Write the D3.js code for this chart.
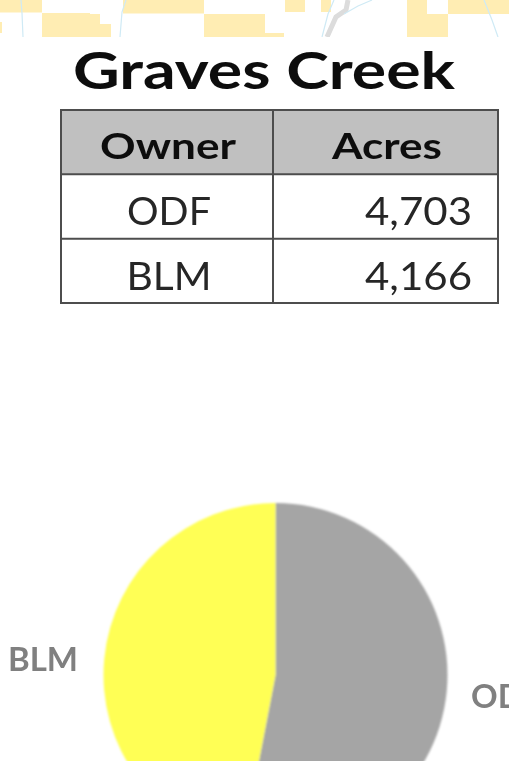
<!DOCTYPE html>
<html><head><meta charset="utf-8">
<script src="https://cdn.jsdelivr.net/npm/d3@7/dist/d3.min.js"></script>
<style>html,body{margin:0;padding:0;background:#fff;overflow:hidden}svg{display:block}text{font-family:Lato,"Open Sans",sans-serif}</style>
</head><body><div id="c"></div>
<script>
const title = "Graves Creek";
const columns = ["Owner", "Acres"];
const owners = ["ODF", "BLM"];
const acres = [4703, 4166];
const sliceColors = ["#a5a5a5", "#ffff55"];

// decorative map fragment behind the top edge
const mapPatches = [
  "M0,0H42V12.5H0Z", "M42,13H90V14H100V24H111V37H42Z", "M0,22H2V33H0Z",
  "M123,0H204V13.5H123Z", "M204,14H265V33H284V37H204Z",
  "M285,0H305V12H285Z", "M321,0H331V12H321Z",
  "M407,0H427V14H448V0H509V14H448V37H407Z"
];
const mapStreams = ["M21,0L22,13L23,37", "M126,0L122,12L120,37", "M334,0L328,14L322,37", "M344,14L358,6L372,0", "M484,0L492,20L498,37"];
const mapRoad = "M348,0L346,10L336,17L327,37";

const W = 509, H = 761;
const svg = d3.select("#c").append("svg").attr("width", W).attr("height", H);
const defs = svg.append("defs");
defs.append("filter").attr("id","soft").append("feGaussianBlur").attr("stdDeviation",0.7);
defs.append("filter").attr("id","soft2").append("feGaussianBlur").attr("stdDeviation",0.9);

const map = svg.append("g").attr("filter","url(#soft)");
map.selectAll("path.p").data(mapPatches).join("path").attr("class","p").attr("d",d=>d).attr("fill","#ffedb3");
map.append("path").attr("d",mapRoad).attr("fill","none").attr("stroke","#dcdcdc").attr("stroke-width",5);
map.selectAll("path.s").data(mapStreams).join("path").attr("class","s").attr("d",d=>d).attr("fill","none").attr("stroke","#cfeaf5").attr("stroke-width",1.2);
svg.append("rect").attr("x",0).attr("y",37).attr("width",W).attr("height",4).attr("fill","#fff");

svg.append("text").attr("x",264).attr("y",89).attr("text-anchor","middle")
  .attr("font-size",52).attr("font-weight",700).attr("fill","#0a0a0a").attr("filter","url(#soft)")
  .attr("textLength",382).attr("lengthAdjust","spacingAndGlyphs").text(title);

// table
const colX = d3.scalePoint().domain(columns).range([61,273]);
const xEdges = [61,273,498];
const rowY = d3.scaleBand().domain(["head",...owners]).range([110,303]);
const table = svg.append("g").attr("filter","url(#soft)");
table.append("rect").attr("x",xEdges[0]).attr("y",rowY("head")).attr("width",xEdges[2]-xEdges[0]).attr("height",rowY.bandwidth()).attr("fill","#c0c0c0");
table.selectAll("line.h").data(["head",...owners,"end"]).join("line").attr("class","h")
  .attr("x1",xEdges[0]-1).attr("x2",xEdges[2]+1)
  .attr("y1",d=>d==="end"?rowY.range()[1]:rowY(d)).attr("y2",d=>d==="end"?rowY.range()[1]:rowY(d))
  .attr("stroke","#4d4d4d").attr("stroke-width",2);
table.selectAll("line.v").data(xEdges).join("line").attr("class","v")
  .attr("x1",d=>d).attr("x2",d=>d).attr("y1",rowY.range()[0]).attr("y2",rowY.range()[1])
  .attr("stroke","#4d4d4d").attr("stroke-width",2);

const fmt = d3.format(",");
const cell = (s,x,y,anchor,weight,len,size) => table.append("text").attr("x",x).attr("y",y).attr("text-anchor",anchor)
  .attr("font-size",size).attr("font-weight",weight).attr("fill",weight>=700?"#111":"#262626")
  .attr("textLength",len).attr("lengthAdjust","spacingAndGlyphs").text(s);
cell(columns[0],168,159,"middle",700,136,37);
cell(columns[1],387,159,"middle",700,110,37);
owners.forEach((o,i)=>{
  const base = rowY(o)+51;
  cell(o,169,base,"middle",400,i?85:84,38);
  cell(fmt(acres[i]),472,base,"end",400,107,38);
});

// pie
const cx = 275.5, cy = 675, r = 172;
const pie = d3.pie().sort(null);
const arc = d3.arc().innerRadius(0).outerRadius(r);
svg.append("g").attr("transform",`translate(${cx},${cy})`).attr("filter","url(#soft2)")
  .selectAll("path").data(pie(acres)).join("path").attr("d",arc).attr("fill",(d,i)=>sliceColors[i]);

const labelPos = [[471,708,"start"],[8,671,"start"]];
svg.append("g").attr("filter","url(#soft)").selectAll("text").data(owners).join("text")
  .attr("x",(d,i)=>labelPos[i][0]).attr("y",(d,i)=>labelPos[i][1])
  .attr("font-size",33).attr("font-weight",700).attr("fill","#808080").text(d=>d);
</script></body></html>
